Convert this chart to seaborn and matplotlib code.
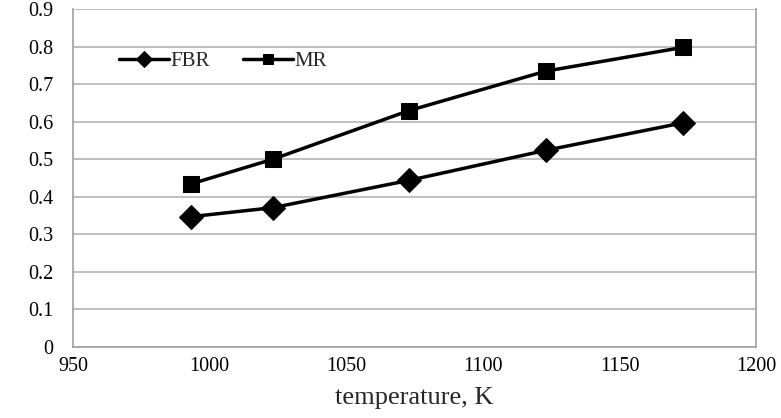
import matplotlib.pyplot as plt
import pandas as pd
import seaborn as sns

# data
temperature = [993, 1023, 1073, 1123, 1173]
fbr_values = [0.347, 0.371, 0.444, 0.524, 0.597]
mr_values = [0.434, 0.500, 0.630, 0.735, 0.798]
series_names = ["FBR", "MR"]
x_ticks = [950, 1000, 1050, 1100, 1150, 1200]
y_ticks = [0, 0.1, 0.2, 0.3, 0.4, 0.5, 0.6, 0.7, 0.8, 0.9]


def main():
    df = pd.DataFrame(
        {
            "temperature": temperature * 2,
            "value": fbr_values + mr_values,
            "reactor": [series_names[0]] * len(temperature)
            + [series_names[1]] * len(temperature),
        }
    )

    sns.set_style("white")
    plt.rcParams["font.family"] = ["Liberation Serif", "DejaVu Serif"]

    fig = plt.figure(figsize=(7.81, 4.18), dpi=100)
    ax = fig.add_axes([0.0935, 0.170, 0.875, 0.808])

    sns.lineplot(
        data=df,
        x="temperature",
        y="value",
        hue="reactor",
        style="reactor",
        palette=["black", "black"],
        markers={"FBR": "D", "MR": "s"},
        markersize=12,
        markeredgecolor="black",
        dashes=False,
        linewidth=2.5,
        ax=ax,
    )

    ax.set_xlim(950, 1200)
    ax.set_ylim(0, 0.9)
    ax.set_xticks(x_ticks)
    ax.set_yticks(y_ticks)
    ax.set_yticklabels(["0" if v == 0 else f"{v:.1f}" for v in y_ticks])
    ax.tick_params(axis="both", length=0, labelsize=14.5, colors="black")
    ax.tick_params(axis="y", pad=14)
    ax.tick_params(axis="x", pad=7)

    ax.yaxis.grid(True, color="#b4b4b4", linewidth=1.2)
    ax.set_axisbelow(True)
    for side in ["top", "right", "left", "bottom"]:
        ax.spines[side].set_color("#a0a0a0")
        ax.spines[side].set_linewidth(1.2)
    ax.spines["top"].set_visible(False)

    ax.set_xlabel("temperature, K", fontsize=19, labelpad=8)
    ax.set_ylabel("")

    leg = ax.legend(
        loc="upper left",
        bbox_to_anchor=(0.04, 0.93),
        ncol=2,
        frameon=False,
        fontsize=15,
        markerscale=0.65,
        handlelength=2.4,
        handletextpad=0.05,
        columnspacing=1.6,
    )
    for h in leg.get_lines():
        h.set_linewidth(2.5)

    fig.savefig("out.png", dpi=100)


if __name__ == "__main__":
    main()
